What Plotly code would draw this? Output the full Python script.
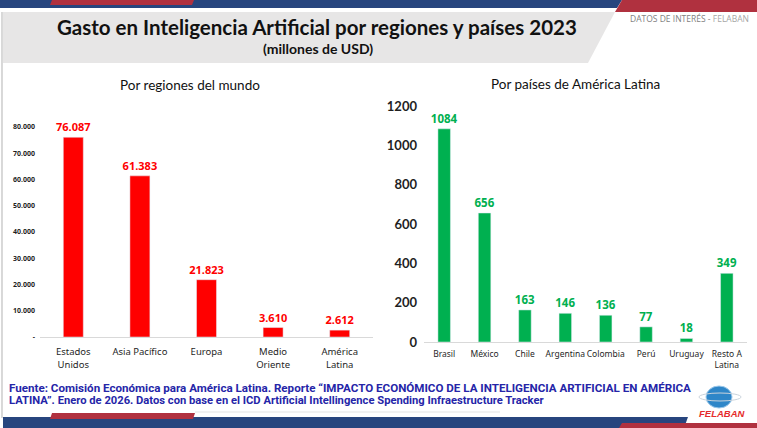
import plotly.graph_objects as go

W, H = 757, 428

regiones = ["Estados<br>Unidos", "Asia Pacífico", "Europa", "Medio<br>Oriente", "América<br>Latina"]
gasto_regiones = [76087, 61383, 21823, 3610, 2612]
etiquetas_regiones = ["76.087", "61.383", "21.823", "3.610", "2.612"]
ticks_regiones = [0, 10000, 20000, 30000, 40000, 50000, 60000, 70000, 80000]
ticktext_regiones = ["-", "10.000", "20.000", "30.000", "40.000", "50.000", "60.000", "70.000", "80.000"]

paises = ["Brasil", "México", "Chile", "Argentina", "Colombia", "Perú", "Uruguay", "Resto A<br>Latina"]
gasto_paises = [1084, 656, 163, 146, 136, 77, 18, 349]

titulo = "Gasto en Inteligencia Artificial por regiones y países 2023"
subtitulo = "(millones de USD)"
fuente_1 = "Fuente: Comisión Económica para América Latina. Reporte “IMPACTO ECONÓMICO DE LA INTELIGENCIA ARTIFICIAL EN AMÉRICA"
fuente_2 = "LATINA”. Enero de 2026. Datos con base en el ICD Artificial Intellingence Spending Infraestructure Tracker"

RED = "#FF0000"
GREEN = "#00B050"
NAVY = "#27457E"
CRIMSON = "#B0313F"
TXT = "#1F1F1F"


def px(x):
    return x / W


def py(y):
    return 1 - y / H


def poly(points, color):
    d = "M " + " L ".join(f"{px(x):.5f},{py(y):.5f}" for x, y in points) + " Z"
    return dict(type="path", xref="paper", yref="paper", path=d,
                fillcolor=color, line=dict(width=0), layer="below")


fig = go.Figure()

fig.add_trace(go.Bar(
    x=regiones, y=gasto_regiones, text=etiquetas_regiones,
    textposition="outside", cliponaxis=False, constraintext="none", width=0.3,
    marker_color=RED, xaxis="x", yaxis="y",
    textfont=dict(family="Noto Sans", size=11, color=RED, weight="bold"),
))
fig.add_trace(go.Bar(
    x=paises, y=gasto_paises, text=gasto_paises,
    textposition="outside", cliponaxis=False, constraintext="none", width=0.31,
    marker_color=GREEN, xaxis="x2", yaxis="y2",
    textfont=dict(family="Noto Sans", size=11.5, color=GREEN, weight="bold"),
))

shapes = [
    # franjas superiores
    poly([(0, 0), (622, 0), (617, 8), (0, 8)], NAVY),
    poly([(52, 0), (194, 0), (192, 5), (50, 5)], CRIMSON),
    poly([(622, 0), (757, 0), (757, 12), (615, 12)], CRIMSON),
    # banda del título
    poly([(3, 12), (615, 12), (588, 63), (3, 63)], "#E7E6E6"),
    # franjas inferiores
    poly([(3, 417), (688, 417), (684, 428), (3, 428)], NAVY),
    poly([(52, 413), (195, 413), (193, 419), (50, 419)], CRIMSON),
    poly([(622, 423), (757, 423), (757, 428), (619, 428)], CRIMSON),
    dict(type="line", xref="paper", yref="paper", x0=px(2), x1=px(2), y0=py(12), y1=py(418),
         line=dict(color="#BFBFBF", width=1.2)),
    dict(type="line", xref="paper", yref="paper", x0=px(195), x1=px(500), y0=py(412), y1=py(412),
         line=dict(color="#E3E3E3", width=1)),
    # globo del logo
    dict(type="circle", xref="paper", yref="paper", x0=px(706), x1=px(732), y0=py(408), y1=py(386),
         fillcolor="#2E86C8", line=dict(color="#9CC8EA", width=1)),
    dict(type="circle", xref="paper", yref="paper", x0=px(699), x1=px(741), y0=py(401), y1=py(393),
         fillcolor="rgba(0,0,0,0)", line=dict(color="#C9D3DC", width=1)),
]

annotations = [
    dict(text=f"<b>{titulo}</b>", x=px(317), y=py(27), font=dict(family="Lato", size=20.5, color="#111111")),
    dict(text=f"<b>{subtitulo}</b>", x=px(318), y=py(48), font=dict(family="Lato", size=14, color="#111111")),
    dict(text="DATOS DE INTERÉS - <span style='color:#A6A6A6'>FELABAN</span>", x=px(689), y=py(19),
         font=dict(family="Open Sans", size=8.5, color="#7F7F7F")),
    dict(text="Por regiones del mundo", x=px(190), y=py(85), font=dict(family="Lato", size=13.5, color="#111111")),
    dict(text="Por países de América Latina", x=px(575), y=py(84), font=dict(family="Lato", size=13.5, color="#111111")),
    dict(text=f"<b>{fuente_1}</b>", x=px(7), y=py(388), xanchor="left",
         font=dict(family="Roboto", size=11.6, color="#2525A8")),
    dict(text=f"<b>{fuente_2}</b>", x=px(7), y=py(400), xanchor="left",
         font=dict(family="Roboto", size=11.2, color="#2525A8")),
    dict(text="<b><i>FELABAN</i></b>", x=px(722), y=py(413), font=dict(family="Liberation Sans", size=9.5, color="#E52B2B")),
]
for a in annotations:
    a.setdefault("xanchor", "center")
    a.update(xref="paper", yref="paper", yanchor="middle", showarrow=False)

fig.update_layout(
    width=W, height=H,
    margin=dict(l=0, r=0, t=0, b=0, pad=0, autoexpand=False),
    paper_bgcolor="white", plot_bgcolor="white",
    showlegend=False, bargap=0.7,
    shapes=shapes, annotations=annotations,
    xaxis=dict(domain=[px(40), px(373)], showline=True, linecolor="#D9D9D9", linewidth=1,
               ticks="", tickangle=0, ticklabelstandoff=6, automargin=False,
               tickfont=dict(family="Noto Sans", size=9.5, color=TXT)),
    yaxis=dict(domain=[py(337), py(100.75)], range=[0, 90000], showgrid=False, zeroline=False,
               tickvals=ticks_regiones, ticktext=ticktext_regiones, ticks="", ticklabelstandoff=4,
               automargin=False, tickfont=dict(family="Noto Sans", size=7, color=TXT, weight="bold")),
    xaxis2=dict(domain=[px(424), px(747)], anchor="y2", showline=True, linecolor="#D9D9D9", linewidth=1,
                ticks="", tickangle=0, ticklabelstandoff=4, automargin=False,
                tickfont=dict(family="Noto Sans", size=8.5, color=TXT)),
    yaxis2=dict(domain=[py(342), py(106)], range=[0, 1200], anchor="x2", showgrid=False, zeroline=False,
                dtick=200, ticks="", ticklabelstandoff=6, automargin=False,
                tickfont=dict(family="Lato", size=13, color=TXT, weight="bold")),
)

fig.write_html("out.html", config={"displayModeBar": False},
               post_script="document.body.style.margin='0';")
